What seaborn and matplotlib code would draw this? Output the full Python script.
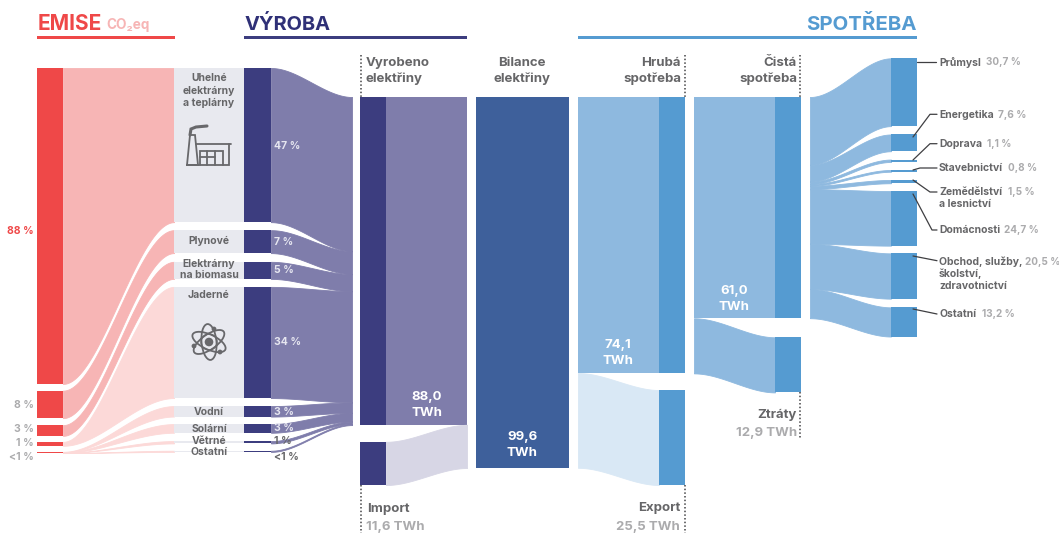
import numpy as np
import pandas as pd
import seaborn as sns
import matplotlib
matplotlib.use("Agg")
import matplotlib.pyplot as plt
from matplotlib.patches import Ellipse, Circle, Rectangle

# ---------- data ----------
sources = ["Uhelné", "Plynové", "Biomasa", "Jaderné", "Vodní", "Solární", "Větrné", "Ostatní"]
emission_share = [88.0, 7.66, 2.98, 1.11, 0.36]            # % (drawn)
generation_share = [47.0, 7.0, 5.2, 33.9, 3.2, 2.65, 0.72, 0.36]   # %
consumption_share = [30.7, 7.6, 1.1, 0.8, 1.5, 24.7, 20.5, 13.2]   # %
generated_twh = 88.0
import_twh = 11.6
balance_twh = 99.6
gross_twh = 74.1
export_twh = 25.5
net_twh = 59.4     # drawn height of the net block
loss_twh = 14.8    # drawn height of the losses block

emission_labels = ["88 %", "8 %", "3 %", "1 %", "<1 %"]
generation_labels = ["47 %", "7 %", "5 %", "34 %", "3 %", "3 %", "1 %", "<1 %"]
consumption_names = ["Průmysl", "Energetika", "Doprava", "Stavebnictví", "Zemědělství\na lesnictví",
                     "Domácnosti", "Obchod, služby,\nškolství,\nzdravotnictví", "Ostatní"]
consumption_labels = ["30,7 %", "7,6 %", "1,1 %", "0,8 %", "1,5 %", "24,7 %", "20,5 %", "13,2 %"]

# ---------- styling / layout ----------
RED, PINK, PALE = "#ef4848", "#f7b5b5", "#fcd9d8"
NAVY, PURPLE, LILAC = "#3c3d7f", "#7f7dab", "#d7d6e5"
BAL, BLUE, SKY, ICE = "#3e609b", "#559bd1", "#8eb9df", "#d9e8f5"
NODE, TXT, SOFT = "#e8e9ef", "#666668", "#ababad"
PX_EM, PX_GEN, PX_TWH, PX_CONS = 3.59, 3.28, 3.725, 2.21
TOP0, TOP = 68.0, 97.0
em_gaps = [6.7, 7.0, 6.0, 6.0]
gen_gaps = [8.0, 8.7, 8.0, 8.0, 7.5, 8.3, 7.3]
cons_gaps = [8.3, 8.3, 8.0, 8.2, 7.8, 7.7, 8.7]
em_to_src = [0, 1, 2, 3, 4, 4, 4, 4]

sns.set_theme(style="white", rc={"axes.grid": False})
plt.rcParams["font.family"] = ["Inter", "DejaVu Sans"]

fig = plt.figure(figsize=(10.59, 5.33), dpi=100)
ax = fig.add_axes([0, 0, 1, 1])


def stack(heights, gaps, start):
    tops, y = [], start
    for i, h in enumerate(heights):
        tops.append(y)
        y += h + (gaps[i] if i < len(gaps) else 0)
    return np.array(tops), np.array(heights)


def block(x0, x1, y0, h, color):
    sns.barplot(x=[(x0 + x1) / 2], y=[h], bottom=[y0], native_scale=True, width=x1 - x0,
                color=color, saturation=1, linewidth=0, errorbar=None, ax=ax)


def ribbon(x0, x1, l0, l1, r0, r1, color):
    t = np.linspace(0, 1, 200)
    s = t * t * (3 - 2 * t)
    x = x0 + (x1 - x0) * t
    # a hairline edge in the fill colour closes the seams between touching ribbons
    ax.fill_between(x, l0 + (r0 - l0) * s, l1 + (r1 - l1) * s, facecolor=color,
                    edgecolor=color, lw=0.6)


# --- emissions
e_top, e_h = stack([v * PX_EM for v in emission_share], em_gaps, TOP0)
g_top, g_h = stack([v * PX_GEN for v in generation_share], gen_gaps, TOP0)
em_cursor = {i: e_top[i] for i in range(len(e_top))}
for i, (y, h) in enumerate(zip(g_top, g_h)):
    j = em_to_src[i]
    color = PINK if i < 3 else PALE
    if j < 4:
        ribbon(63, 174, e_top[j], e_top[j] + e_h[j], y, y + h, color)
    else:
        w = e_h[j] * generation_share[i] / sum(generation_share[4:])
        ribbon(63, 174, em_cursor[j], em_cursor[j] + w, y, y + h, color)
        em_cursor[j] += w
for y, h in zip(e_top, e_h):
    block(37, 63, y, h, RED)
for y, h in zip(g_top, g_h):
    block(174, 244, y, h, NODE)
    block(244, 271, y, h, NAVY)

# --- generation -> total
rt = TOP
for y, h in zip(g_top, g_h):
    ribbon(271, 352, y, y + h, rt, rt + h, PURPLE)
    rt += h

# --- generated / import
gen_h = generated_twh * PX_TWH
imp_h = import_twh * PX_TWH
block(360, 386, TOP, gen_h, NAVY)
block(386, 467, TOP, gen_h, PURPLE)
imp_top = TOP + balance_twh * PX_TWH + 17 - imp_h
block(360, 386, imp_top, imp_h, NAVY)
ribbon(386, 467, imp_top, imp_top + imp_h, TOP + gen_h, TOP + gen_h + imp_h, LILAC)

# --- balance
bal_h = balance_twh * PX_TWH
block(476.3, 568.7, TOP, bal_h, BAL)

# --- gross consumption / export
gross_h = gross_twh * PX_TWH
exp_h = export_twh * PX_TWH
exp_top = TOP + bal_h + 17 - exp_h
block(578, 659, TOP, gross_h, SKY)
block(659, 685, TOP, gross_h, BLUE)
ribbon(578, 659, TOP + gross_h, TOP + gross_h + exp_h - 0.2, exp_top, exp_top + exp_h, ICE)
block(659, 685, exp_top, exp_h, BLUE)

# --- net consumption / losses
net_h = net_twh * PX_TWH
loss_h = loss_twh * PX_TWH
block(694, 775, TOP, net_h, SKY)
block(775, 801, TOP, net_h, BLUE)
loss_top = TOP + net_h + 19
ribbon(694, 775, TOP + net_h, TOP + net_h + loss_h, loss_top, loss_top + loss_h, SKY)
block(775, 801, loss_top, loss_h, BLUE)

# --- end use
c_h = np.array(consumption_share) * PX_CONS
c_top, _ = stack(list(c_h), cons_gaps, 58.3)
lt = TOP
for y, h in zip(c_top, c_h):
    ribbon(810, 891, lt, lt + h, y, y + h, SKY)
    block(891, 917, y, h, BLUE)
    lt += h

# ---------- headers ----------
def txt(x, y, s, size=9.5, color=TXT, ha="left", weight="bold", **kw):
    return ax.text(x, y, s, fontsize=size, color=color, ha=ha, va="center", fontweight=weight, **kw)


for x0, x1, c in [(37, 175, RED), (244, 467, NAVY), (578, 917, BLUE)]:
    ax.add_patch(Rectangle((x0, 36), x1 - x0, 3, color=c, lw=0))
txt(38, 24, "EMISE", 15, RED)
txt(106, 25.5, "CO₂eq", 9.8, PINK)
txt(245, 24, "VÝROBA", 14.4, "#2f3077")
txt(917, 24, "SPOTŘEBA", 14.7, BLUE, ha="right")

# ---------- dotted guides ----------
for x, y0, y1 in [(361, 55, 97), (684.7, 55, 97), (800.3, 55, 97),
                  (361, 485, 533), (684.7, 485, 533), (800.3, 392, 438)]:
    ax.plot([x, x], [y0, y1], color="#444446", lw=1.1, ls=(0, (1, 1.4)))

# ---------- column captions ----------
for x, ha, l1, l2 in [(366, "left", "Vyrobeno", "elektřiny"), (522, "center", "Bilance", "elektřiny"),
                      (681, "right", "Hrubá", "spotřeba"), (797, "right", "Čistá", "spotřeba")]:
    txt(x, 63, l1, ha=ha)
    txt(x, 79, l2, ha=ha)
txt(367, 509, "Import")
txt(366, 527, "11,6 TWh", color=SOFT)
txt(680, 508, "Export", ha="right")
txt(680, 527, "25,5 TWh", color=SOFT, ha="right")
txt(797, 415, "Ztráty", ha="right")
txt(797, 433, "12,9 TWh", color=SOFT, ha="right")
for x, y, a, b in [(427, 397, "88,0", "TWh"), (522, 437, "99,6", "TWh"),
                   (618, 345, "74,1", "TWh"), (734, 291, "61,0", "TWh")]:
    txt(x, y, a, color="white", ha="center")
    txt(x, y + 15.5, b, color="white", ha="center")

# ---------- source names ----------
for y, s in [(78, "Uhelné"), (91, "elektrárny"), (103, "a teplárny"), (241, "Plynové"),
             (264, "Elektrárny"), (275, "na biomasu"), (295, "Jaderné"), (412, "Vodní"),
             (428.5, "Solární"), (441, "Větrné"), (452, "Ostatní")]:
    txt(209, y, s, 7.5, ha="center")

# ---------- percents ----------
for y, s, c in zip([231, 405, 429, 443, 457], emission_labels, [RED, SOFT, SOFT, SOFT, SOFT]):
    txt(34, y, s, 7.5, c, ha="right")
for y, s, c in zip([146, 242, 270, 342, 412, 428, 441, 457], generation_labels,
                   ["#e6e6f0"] * 6 + [TXT, TXT]):
    txt(274, y, s, 7.5, c)

# ---------- end-use labels ----------
name_y = [62, 115, 144, 168, 192, 230, 262, 314]
pct_x = [986, 998, 987, 1008, 1008, 1004, 1025, 982]
leaders = [[(917, 62), (936, 62)],
           [(913, 137), (930, 114.3), (937, 114.3)],
           [(913, 160), (930, 143.7), (937, 143.7)],
           [(913, 170), (920, 168), (937, 168)],
           [(913, 180), (930, 192), (937, 192)],
           [(913, 194), (932, 230), (937, 230)],
           [(913, 256), (937, 260.7)],
           [(913, 309), (937, 314)]]
for y, nm, p, px, pts in zip(name_y, consumption_names, consumption_labels, pct_x, leaders):
    for k, line in enumerate(nm.split("\n")):
        txt(939, y + k * 12, line, 7.5)
    txt(px, y, p, 7.2, SOFT)
    ax.plot(*zip(*pts), color="#3f3f42", lw=0.9)

# ---------- icons ----------
IC = "#68686b"
def poly(pts, lw=1.3):
    ax.plot(*zip(*pts), color=IC, lw=lw, solid_joinstyle="miter")


poly([(187, 165), (190, 135), (195, 135), (198, 165), (187, 165)])
poly([(190, 135), (191, 129), (196, 127), (207, 126)], 2.2)
poly([(196, 144), (231, 144)])
poly([(229, 144), (229, 165), (187, 165)])
poly([(200, 165), (200, 151), (223, 151), (223, 165)])
poly([(200, 157), (215, 157)])
poly([(207, 151), (207, 165)])
poly([(215, 151), (215, 165)])
for ang in (25, 85, 145):
    ax.add_patch(Ellipse((209, 342), 36, 15, angle=ang, fill=False, ec=IC, lw=1.3))
ax.add_patch(Circle((209, 342), 8, fill=False, ec=IC, lw=1.0))
ax.add_patch(Circle((209, 342), 4.3, color=IC, lw=0))
for cx, cy in [(214, 329), (220, 352), (194, 346)]:
    ax.add_patch(Circle((cx, cy), 2.4, color=IC, lw=0))

ax.set_xlim(0, 1059)
ax.set_ylim(533, 0)
ax.set_axis_off()
fig.savefig("out.png", dpi=100, facecolor="white")
